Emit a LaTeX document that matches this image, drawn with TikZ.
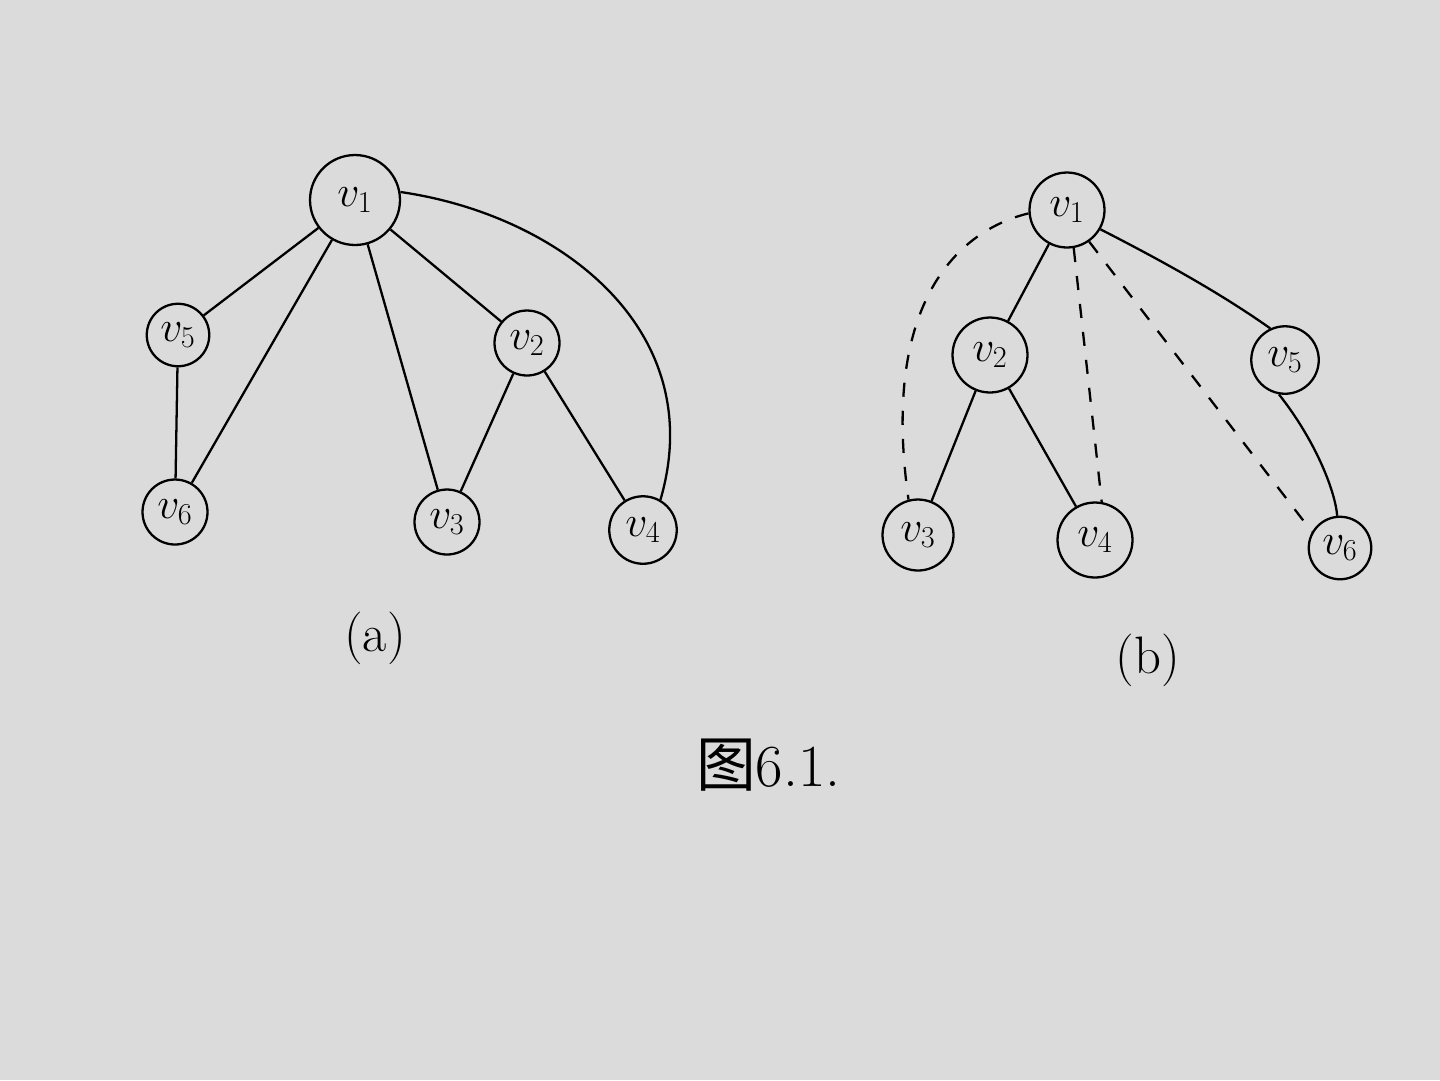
\documentclass[tikz,border=0pt]{standalone}
\usepackage{fontspec}
\newfontfamily\cjk{Noto Sans CJK SC}
\begin{document}
\begin{tikzpicture}[x=0.02cm,y=-0.02cm,
  vtx/.style={circle,draw,line width=1.3pt,inner sep=0pt,font=\fontsize{26}{30}\selectfont},
  edge/.style={line width=1.3pt},
  dedge/.style={line width=1.3pt,dash pattern=on 8pt off 8pt},
  lbl/.style={font=\fontsize{30}{36}\selectfont}]
\fill[black!14] (0,0) rectangle (1440,1080);
\useasboundingbox (0,0) rectangle (1440,1080);
% (a)
\node[vtx,minimum size=1.8cm] (a1) at (355,200) {$v_1$};
\node[vtx,minimum size=1.25cm] (a5) at (178,335) {$v_5$};
\node[vtx,minimum size=1.3cm] (a2) at (527,343) {$v_2$};
\node[vtx,minimum size=1.3cm] (a6) at (175,512) {$v_6$};
\node[vtx,minimum size=1.3cm] (a3) at (447,522) {$v_3$};
\node[vtx,minimum size=1.35cm] (a4) at (643,530) {$v_4$};
\draw[edge] (a1) -- (a5);
\draw[edge] (a1) -- (a6);
\draw[edge] (a1) -- (a3);
\draw[edge] (a1) -- (a2);
\draw[edge] (a5) -- (a6);
\draw[edge] (a2) -- (a3);
\draw[edge] (a2) -- (a4);
\draw[edge] (a1.10) .. controls (560,215) and (710,330) .. (a4.60);
\node[lbl] (la) at (375,638) {(a)};
% (b)
\node[vtx,minimum size=1.5cm] (b1) at (1067,210) {$v_1$};
\node[vtx,minimum size=1.5cm] (b2) at (990,355) {$v_2$};
\node[vtx,minimum size=1.35cm] (b5) at (1285,360) {$v_5$};
\node[vtx,minimum size=1.42cm] (b3) at (918,535) {$v_3$};
\node[vtx,minimum size=1.5cm] (b4) at (1095,540) {$v_4$};
\node[vtx,minimum size=1.25cm] (b6) at (1340,548) {$v_6$};
\draw[edge] (b1) -- (b2);
\draw[edge] (b1.-30) .. controls (1180,270) and (1230,300) .. (b5.115);
\draw[edge] (b2) -- (b3);
\draw[edge] (b2) -- (b4);
\draw[edge] (b5.-100) .. controls (1315,440) and (1335,490) .. (b6.95);
\draw[dedge] (b1.185) .. controls (960,230) and (880,300) .. (b3.105);
\draw[dedge] (b1.-80) -- (b4.80);
\draw[dedge] (b1.-55) -- (b6.150);
\node[lbl] (lb) at (1148,660) {(b)};
% caption
\node[font=\fontsize{34}{40}\selectfont,anchor=west] (cap) at (690,765) {{\cjk 图}6.1.};
\end{tikzpicture}
\end{document}
